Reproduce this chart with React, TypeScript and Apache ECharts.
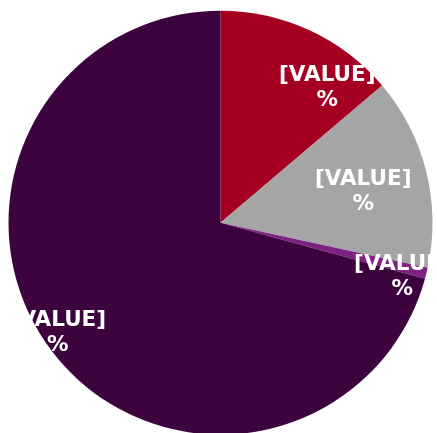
import React, { useEffect, useRef } from "react";
import * as echarts from "echarts";

const categories = ["Category 1", "Category 2", "Category 3", "Category 4"];
const values = [13.8, 14.6, 0.85, 70.75];
const colors = ["#A50021", "#A5A5A5", "#7D2182", "#3D033E"];
const labelText = "[VALUE]\n%";
const labelShift: [number, number][] = [
  [61, -38],
  [37, -6],
  [76, 26],
  [-76, 42],
];

export default function App() {
  const ref = useRef<HTMLDivElement>(null);
  useEffect(() => {
    if (!ref.current) return;
    const chart = echarts.init(ref.current, null, { renderer: "svg" });
    chart.setOption({
      animation: false,
      series: [
        {
          type: "pie",
          center: [220.5, 222.7],
          radius: [0, 212],
          startAngle: 90,
          clockwise: true,
          avoidLabelOverlap: false,
          data: categories.map((name, i) => ({
            name,
            value: values[i],
            itemStyle: { color: colors[i] },
          })),
          label: {
            show: true,
            position: "inside",
            formatter: labelText,
            color: "#ffffff",
            fontFamily: "DejaVu Sans",
            fontWeight: "bold",
            fontSize: 21.5,
            lineHeight: 25,
            align: "center",
          },
          labelLine: { show: false },
          labelLayout: (p: any) => ({
            dx: labelShift[p.dataIndex][0],
            dy: labelShift[p.dataIndex][1],
          }),
          emphasis: { disabled: true },
        },
      ],
    });
    return () => chart.dispose();
  }, []);
  return (
    <div
      ref={ref}
      style={{ position: "fixed", left: 0, top: 0, width: 437, height: 433 }}
    />
  );
}
